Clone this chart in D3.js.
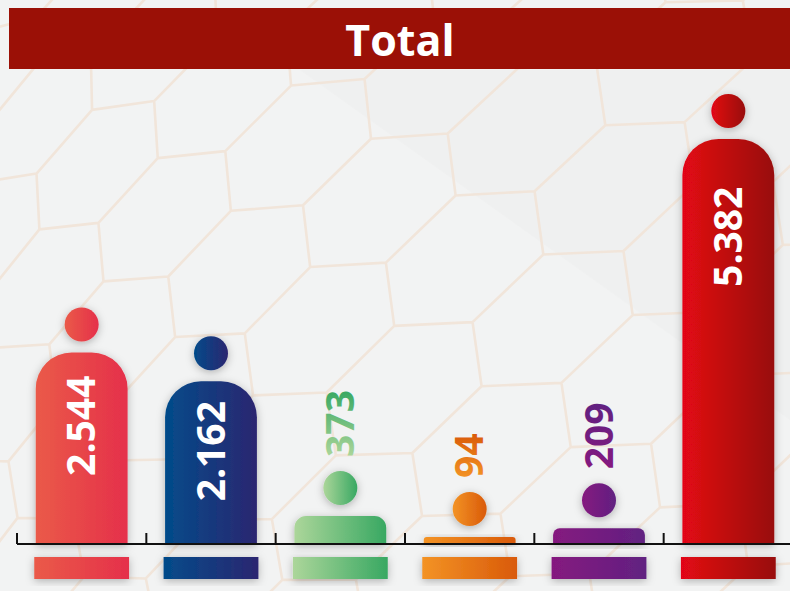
<!DOCTYPE html>
<html>
<head>
<meta charset="utf-8">
<script src="https://cdn.jsdelivr.net/npm/d3@7"></script>
<style>
  html, body { margin: 0; padding: 0; background: #f2f3f3; }
  svg { display: block; }
</style>
</head>
<body>
<div id="chart"></div>
<script>
// data
var categories = ['c1', 'c2', 'c3', 'c4', 'c5', 'total'];
var values = [2544, 2162, 373, 94, 209, 5382];
var title = 'Total';

// palette (left -> right gradient stops)
var colorFrom = ['#ea5a48', '#034b8a', '#acd69a', '#f39325', '#85197f', '#e30613'];
var colorTo   = ['#e5304b', '#2b2670', '#38a862', '#d95a09', '#612181', '#980f0a'];

var width = 790, height = 591;
var baseY = 544;

var svg = d3.select('#chart').append('svg')
  .attr('width', width)
  .attr('height', height);

var defs = svg.append('defs');

var shadow = defs.append('filter')
  .attr('id', 'shadow')
  .attr('x', '-30%').attr('y', '-30%')
  .attr('width', '160%').attr('height', '160%');
shadow.append('feDropShadow')
  .attr('dx', 0).attr('dy', 2)
  .attr('stdDeviation', 4)
  .attr('flood-color', '#000')
  .attr('flood-opacity', 0.28);

categories.forEach(function(c, i){
  var g = defs.append('linearGradient')
    .attr('id', 'grad-' + i)
    .attr('x1', 0).attr('x2', 1).attr('y1', 0).attr('y2', 0);
  g.append('stop').attr('offset', '0%').attr('stop-color', colorFrom[i]);
  g.append('stop').attr('offset', '100%').attr('stop-color', colorTo[i]);
});

// background
svg.append('rect')
  .attr('width', width).attr('height', height)
  .attr('fill', '#f2f3f3');
svg.append('path')
  .attr('d', 'M300,70 L790,70 L790,420 Z')
  .attr('fill', '#ebebec')
  .attr('opacity', 0.35);

// honeycomb pattern (decoration), warped like a sphere
var u1 = [8, 56], u2 = [-70, 3], u3 = [62, -59];
var la = [u1[0] - u2[0], u1[1] - u2[1]];
var lb = [u2[0] - u3[0], u2[1] - u3[1]];
var sc = [620, 360], R = 820, k = 1.15;
function warp(p){
  var dx = p[0] - sc[0], dy = p[1] - sc[1];
  var s = Math.sqrt(dx * dx + dy * dy);
  if (s < 1e-6) return [p[0], p[1]];
  var t = Math.min(s / R, Math.PI / 2);
  var f = R * Math.sin(t) / s;
  return [sc[0] + dx * f, sc[1] + dy * f];
}
var hexPath = d3.path();
for (var i = -25; i <= 25; i++){
  for (var j = -25; j <= 25; j++){
    var ax = 382 + k * (i * la[0] + j * lb[0]);
    var ay = 261 + k * (i * la[1] + j * lb[1]);
    if (Math.hypot(ax - sc[0], ay - sc[1]) > R * 1.5) continue;
    [u1, u2, u3].forEach(function(u){
      var a = warp([ax, ay]);
      var b = warp([ax + k * u[0], ay + k * u[1]]);
      hexPath.moveTo(a[0], a[1]);
      hexPath.lineTo(b[0], b[1]);
    });
  }
}
svg.append('path')
  .attr('d', hexPath.toString())
  .attr('fill', 'none')
  .attr('stroke', '#f1e5da')
  .attr('stroke-width', 2.6)
  .attr('stroke-linejoin', 'round');

// title bar
svg.append('rect')
  .attr('x', 9).attr('y', 8)
  .attr('width', width - 9).attr('height', 61)
  .attr('fill', '#9b1006');
svg.append('text')
  .attr('x', 400).attr('y', 56)
  .attr('text-anchor', 'middle')
  .attr('fill', '#fff')
  .style('font-family', '"Open Sans", sans-serif')
  .style('font-weight', 700)
  .style('font-size', '43px')
  .text(title);

// scales
var x = d3.scaleBand()
  .domain(categories)
  .range([17, 793])
  .paddingInner(0.29)
  .paddingOuter(0.145);

var y = d3.scaleLinear()
  .domain([0, d3.max(values)])
  .range([baseY, 139]);

var fmt = d3.formatLocale({decimal: ',', thousands: '.', grouping: [3], currency: ['', '']}).format(',');

var bw = x.bandwidth();
var headR = 17;

function barPath(x0, top, w, h){
  var r = Math.min(36, h * 0.42, w / 2);
  var p = d3.path();
  p.moveTo(x0, baseY);
  p.lineTo(x0, top + r);
  p.arcTo(x0, top, x0 + r, top, r);
  p.lineTo(x0 + w - r, top);
  p.arcTo(x0 + w, top, x0 + w, top + r, r);
  p.lineTo(x0 + w, baseY);
  p.closePath();
  return p.toString();
}

var groups = svg.selectAll('.person')
  .data(values)
  .enter()
  .append('g')
  .attr('class', 'person');

groups.append('path')
  .attr('d', function(d, i){
    return barPath(x(categories[i]), y(d), bw, baseY - y(d));
  })
  .attr('fill', function(d, i){ return 'url(#grad-' + i + ')'; })
  .attr('filter', 'url(#shadow)');

groups.append('circle')
  .attr('cx', function(d, i){ return x(categories[i]) + bw / 2; })
  .attr('cy', function(d){ return y(d) - 28; })
  .attr('r', headR)
  .attr('fill', function(d, i){ return 'url(#grad-' + i + ')'; })
  .attr('filter', 'url(#shadow)');

// value labels, rotated
groups.append('text')
  .attr('transform', function(d, i){
    var cx = x(categories[i]) + bw / 2;
    var h = baseY - y(d);
    var ty = h > 100 ? y(d) + 0.115 * h + 1 : y(d) - 28 - headR - 14;
    return 'translate(' + cx + ',' + ty + ') rotate(-90)';
  })
  .attr('dy', '0.35em')
  .attr('text-anchor', function(d){ return (baseY - y(d)) > 100 ? 'end' : 'start'; })
  .attr('fill', function(d, i){ return (baseY - y(d)) > 100 ? '#fff' : 'url(#grad-' + i + ')'; })
  .style('font-family', '"Open Sans", sans-serif')
  .style('font-weight', 700)
  .style('font-size', '39px')
  .text(function(d){ return fmt(d); });

// axis: baseline with ticks at band boundaries
var step = x.step();
var tickPos = categories.map(function(c){ return x(c) - x.paddingOuter() * step; });
var axis = svg.append('g').attr('class', 'axis');
axis.append('line')
  .attr('x1', 17).attr('x2', width)
  .attr('y1', baseY).attr('y2', baseY)
  .attr('stroke', '#111')
  .attr('stroke-width', 2);
axis.selectAll('.tick')
  .data(tickPos)
  .enter()
  .append('line')
  .attr('class', 'tick')
  .attr('x1', function(d){ return d; })
  .attr('x2', function(d){ return d; })
  .attr('y1', baseY - 11)
  .attr('y2', baseY)
  .attr('stroke', '#111')
  .attr('stroke-width', 2);

// legend swatches
svg.selectAll('.swatch')
  .data(categories)
  .enter()
  .append('rect')
  .attr('class', 'swatch')
  .attr('x', function(c){ return x(c) - 1.5; })
  .attr('y', 557)
  .attr('width', bw + 3)
  .attr('height', 22)
  .attr('fill', function(c, i){ return 'url(#grad-' + i + ')'; })
  .attr('filter', 'url(#shadow)');
</script>
</body>
</html>
